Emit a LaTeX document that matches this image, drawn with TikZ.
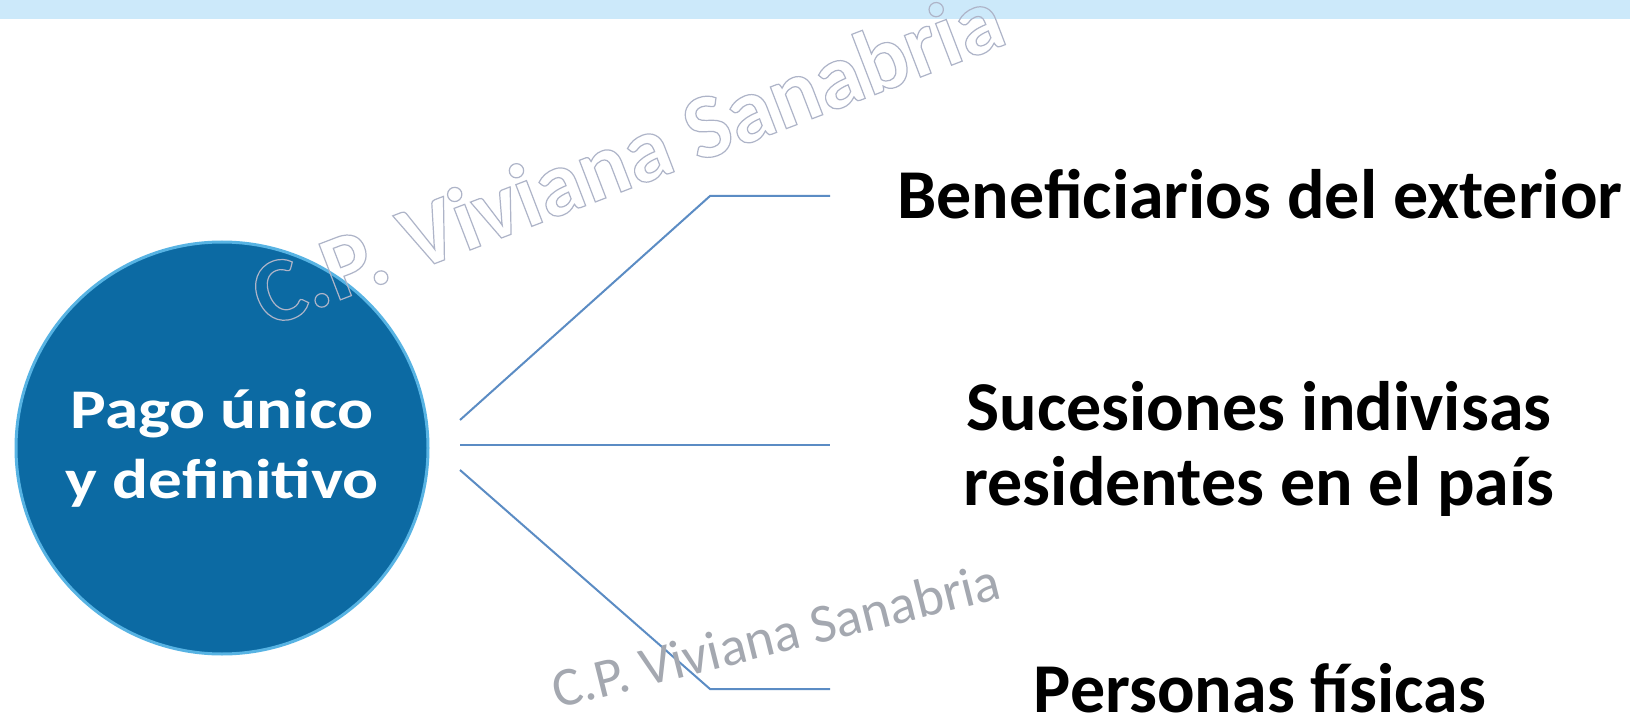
\documentclass[tikz,border=0pt]{standalone}
\usepackage{fontspec}
\setmainfont{Carlito}
\newfontfamily\hubfont[FakeStretch=1.2]{Carlito}
\usetikzlibrary{positioning}

\definecolor{bandblue}{HTML}{CCE9FA}
\definecolor{hubblue}{HTML}{0C6AA3}
\definecolor{rimblue}{HTML}{57B3E3}
\definecolor{linkblue}{HTML}{5B8CC4}
\definecolor{markline}{HTML}{AEB4C8}
\definecolor{markgray}{HTML}{A4A8B0}

% hollow letters for the watermark
\newcommand{\hollow}[1]{\special{pdf:literal direct 1 Tr 1.2 w}#1\special{pdf:literal direct 0 Tr}}

\tikzset{hub/.style={circle,fill=hubblue,draw=rimblue,line width=3pt,
		minimum size=412pt,text=white,align=center,
		font=\hubfont\fontsize{56}{70}\selectfont\bfseries},
	leaf/.style={align=center,inner sep=0pt,font=\fontsize{70}{75}\selectfont\bfseries},
	link/.style={draw=linkblue,line width=2pt},
	wmark/.style={anchor=base west,inner sep=0pt}}

\begin{document}
\begin{tikzpicture}[x=1pt,y=-1pt]
	\useasboundingbox (0,0) rectangle (1630,719);
	\fill[white] (0,0) rectangle (1630,719);
	\fill[bandblue] (0,0) rectangle (1630,19);

	\node[hub] (hub) at (222,448) {Pago único\\y definitivo};

	\node[leaf,text height=46pt,text depth=0pt] (benef) at (1260,196) {Beneficiarios del exterior};
	\node[leaf] (suces) at (1259,449) {Sucesiones indivisas\\residentes en el país};
	\node[leaf,text height=46pt,text depth=0pt] (pers) at (1260,689) {Personas físicas};

	\coordinate (fork) at (460,445);
	\coordinate (knee) at (710,0);
	\coordinate (rail) at (830,0);

	\draw[link] ([yshift=25pt]fork) -- (benef -| knee) -- (benef -| rail);
	\draw[link] (fork) -- (fork -| rail);
	\draw[link] ([yshift=-25pt]fork) -- (pers -| knee) -- (pers -| rail);

	% watermarks
	\node[wmark,rotate=21,text=markline,font=\fontsize{92}{92}\selectfont\bfseries] (mark1) at (267,328)
		{\hollow{C.P. Viviana Sanabria}};
	\node[wmark,rotate=14,text=markgray,font=\fontsize{55}{55}\selectfont] (mark2) at (557,709)
		{C.P. Viviana Sanabria};
\end{tikzpicture}
\end{document}
